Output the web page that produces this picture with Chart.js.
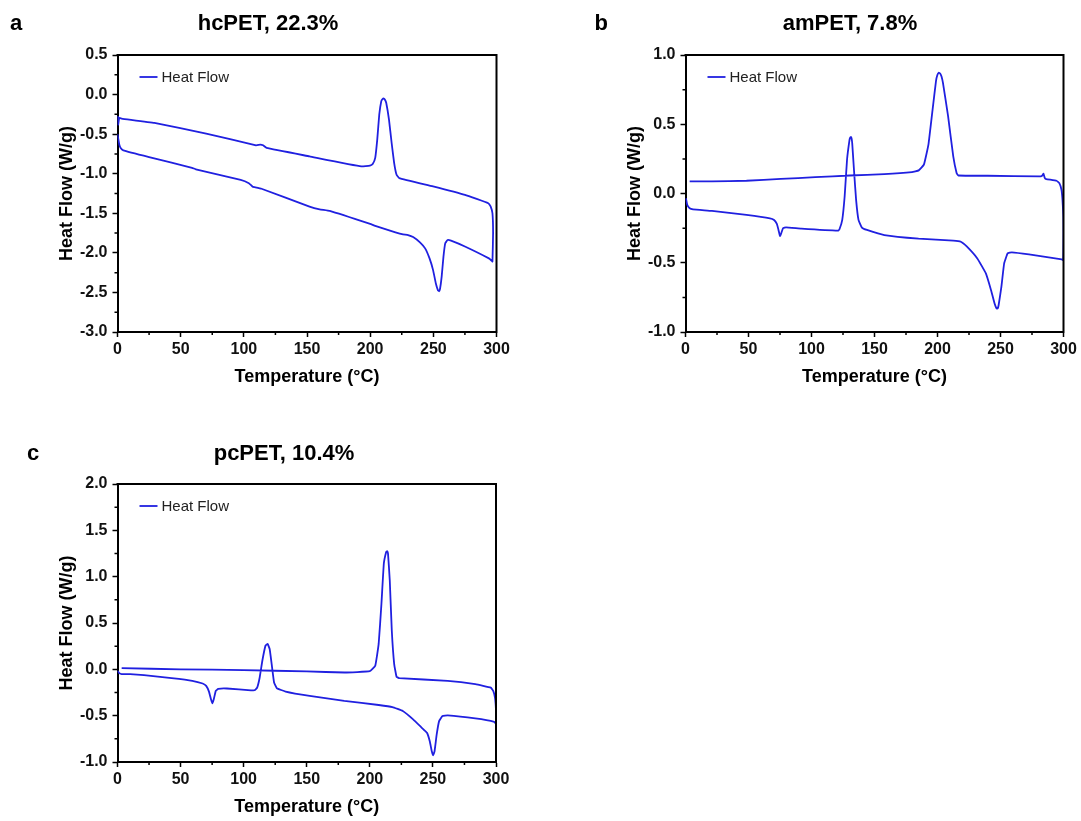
<!DOCTYPE html>
<html>
<head>
<meta charset="utf-8">
<script src="https://cdn.jsdelivr.net/npm/chart.js@4.4.1/dist/chart.umd.min.js"></script>
<style>
  body { margin: 0; background: #fff; width: 1081px; height: 821px; overflow: hidden; position: relative; }
  canvas { position: absolute; }
</style>
</head>
<body>
<canvas id="pa" width="540" height="400" style="left:0;top:0"></canvas>
<canvas id="pb" width="541" height="400" style="left:540px;top:0"></canvas>
<canvas id="pc" width="540" height="400" style="left:0;top:430px"></canvas>
<script>
// hcPET, 22.3% : heating (lower) -> jump at 300 -> cooling (upper)
const hcTemp = [0, 0.5, 1.4, 2.5, 4.6, 25, 59, 62, 97.5, 104, 107, 108.5, 114, 152, 160, 168, 200, 204, 220, 226, 230, 234, 239.4, 243.5, 247, 249.8, 252, 253.6, 254.5, 255.3, 256.6, 258, 259.4, 261.3, 264, 275, 294, 296.2, 296.8,
  297.3, 296.8, 295.4, 293.5,
  275, 249.8, 223, 220.9, 219, 217, 214.9, 212.7, 211.7, 210.8, 209.8, 208.8, 207.2, 205.6, 204, 202, 199.8, 193, 152, 118, 115.2, 113, 109.7, 70.2, 29.2, 3.3, 1.4, 0.5, 0.3];
const hcFlow = [-0.5, -0.55, -0.63, -0.675, -0.705, -0.79, -0.925, -0.945, -1.077, -1.12, -1.165, -1.17, -1.19, -1.415, -1.45, -1.47, -1.635, -1.66, -1.74, -1.766, -1.775, -1.8, -1.867, -1.943, -2.07, -2.218, -2.387, -2.47, -2.485, -2.455, -2.3, -2.05, -1.88, -1.838, -1.846, -1.92, -2.07, -2.1, -2.11,
  -1.75, -1.5, -1.415, -1.373,
  -1.267, -1.16, -1.055, -1.013, -0.865, -0.612, -0.316, -0.104, -0.065, -0.05, -0.056, -0.083, -0.252, -0.569, -0.8, -0.878, -0.899, -0.908, -0.781, -0.675, -0.641, -0.633, -0.641, -0.493, -0.358, -0.303, -0.295, -0.38, -0.27];

// amPET, 7.8%
const amTemp = [0.3, 1.4, 3.3, 6, 21, 48.4, 67, 70.3, 72.5, 73.8, 75, 76, 77.4, 79.8, 92, 121, 122.2, 124.4, 126.3, 128.2, 130.2, 130.8, 131.3, 131.8, 132.3, 133.7, 135.4, 137.3, 140, 144, 157.8, 185, 212.5, 218.5, 223.4, 231.6, 238.4, 242.5, 245.3, 246.9, 247.7, 248.5, 250.7, 252.9, 255.7, 259, 272.6, 298.6, 299.7,
  300, 299.9, 299.2, 298.4, 296.7, 294.5,
  286.3, 285.2, 284.1, 283, 280.8, 239.8, 216.6, 215.2, 212.5, 208.4, 204.3, 203.2, 202.1, 201, 199.9, 198.8, 196.1, 192.8, 189.2, 185.1, 179.7, 157.8, 130.4, 103, 75.7, 48.4, 21, 3.3];
const amFlow = [-0.034, -0.082, -0.106, -0.114, -0.126, -0.155, -0.179, -0.191, -0.22, -0.263, -0.307, -0.287, -0.251, -0.244, -0.254, -0.268, -0.258, -0.19, -0.022, 0.244, 0.389, 0.405, 0.408, 0.398, 0.365, 0.171, -0.046, -0.19, -0.246, -0.263, -0.3, -0.326, -0.34, -0.348, -0.384, -0.469, -0.577, -0.698, -0.795, -0.831, -0.83, -0.807, -0.674, -0.505, -0.432, -0.425, -0.44, -0.476, -0.481,
  -0.287, -0.167, -0.046, 0.027, 0.075, 0.092,
  0.104, 0.111, 0.143, 0.128, 0.123, 0.128, 0.13, 0.147, 0.268, 0.558, 0.8, 0.845, 0.867, 0.872, 0.855, 0.812, 0.606, 0.353, 0.208, 0.167, 0.155, 0.14, 0.13, 0.118, 0.105, 0.092, 0.087, 0.087];

// pcPET, 10.4%
const pcTemp = [0, 1.4, 3.3, 10, 21, 42.9, 59.3, 67.5, 70.3, 72.5, 74.1, 75.2, 76.3, 77.9, 79.8, 86.7, 105.8, 108.6, 110.7, 112.7, 114.8, 117.3, 119, 120.6, 122.2, 124.1, 126.3, 133.2, 152.3, 179.7, 207, 217.9, 226.1, 234.3, 241.2, 245.3, 247.5, 249.1, 250.2, 251.3, 253, 254.9, 257.6, 261.7, 283.6, 298.6, 300,
  300, 299.2, 297.8, 295.9, 283.6, 261.7, 223.4, 221.2, 219.3, 217.4, 215.8, 214.4, 213.7, 213, 211.1, 209.2, 207, 204.3, 200, 180, 150, 100, 50, 3.3];
const pcFlow = [-0.016, -0.041, -0.052, -0.052, -0.063, -0.095, -0.124, -0.153, -0.178, -0.24, -0.323, -0.367, -0.323, -0.233, -0.211, -0.207, -0.226, -0.226, -0.197, -0.088, 0.093, 0.256, 0.274, 0.219, 0.057, -0.142, -0.204, -0.24, -0.287, -0.341, -0.385, -0.407, -0.45, -0.54, -0.631, -0.685, -0.776, -0.884, -0.928, -0.884, -0.703, -0.559, -0.504, -0.497, -0.53, -0.566, -0.587,
  -0.45, -0.305, -0.233, -0.197, -0.16, -0.124, -0.095, -0.081, 0.057, 0.419, 0.961, 1.25, 1.275, 1.269, 1.142, 0.708, 0.274, 0.039, -0.02, -0.034, -0.023, -0.008, 0.0, 0.013];

const titles = ['hcPET, 22.3%', 'amPET, 7.8%', 'pcPET, 10.4%'];
const letters = ['a', 'b', 'c'];
const yRanges = [[-3, 0.5], [-1, 1], [-1, 2]];

const FONT = 'Arial, "Liberation Sans", sans-serif';
const LINE = '#2020e0';
Chart.defaults.font.family = FONT;

// frame, minor ticks, legend, panel title + letter
const deco = {
  id: 'deco',
  afterDraw(chart, args, o) {
    const ctx = chart.ctx, a = chart.chartArea;
    const xs = chart.scales.x, ys = chart.scales.y;
    ctx.save();
    ctx.strokeStyle = '#000';
    ctx.lineWidth = 2;
    ctx.beginPath();
    ctx.moveTo(a.left - 1, a.top);
    ctx.lineTo(a.right, a.top);
    ctx.lineTo(a.right, a.bottom + 1);
    ctx.stroke();
    // minor ticks
    ctx.lineWidth = 1.5;
    ctx.beginPath();
    for (let v = 25; v < 300; v += 50) {
      const px = xs.getPixelForValue(v);
      ctx.moveTo(px, a.bottom);
      ctx.lineTo(px, a.bottom + 3);
    }
    const n = Math.round((ys.max - ys.min) / 0.5);
    for (let i = 0; i < n; i++) {
      const py = ys.getPixelForValue(ys.min + i * 0.5 + 0.25);
      ctx.moveTo(a.left, py);
      ctx.lineTo(a.left - 3, py);
    }
    ctx.stroke();
    // legend
    const ly = a.top + 22;
    ctx.strokeStyle = LINE;
    ctx.lineWidth = 1.8;
    ctx.beginPath();
    ctx.moveTo(a.left + 22, ly);
    ctx.lineTo(a.left + 40, ly);
    ctx.stroke();
    ctx.fillStyle = '#222';
    ctx.font = '15px ' + FONT;
    ctx.textBaseline = 'middle';
    ctx.textAlign = 'left';
    ctx.fillText(chart.data.datasets[0].label, a.left + 44, ly + 1);
    // title and letter
    ctx.fillStyle = '#000';
    ctx.font = 'bold 22px ' + FONT;
    ctx.textBaseline = 'alphabetic';
    ctx.fillText(o.letter, o.letterX, 30);
    ctx.textAlign = 'center';
    ctx.fillText(o.title, o.titleX, 30);
    ctx.restore();
  }
};

function panel(id, temps, flows, k, yWidth, rightPad, letterX, titleX) {
  const pts = temps.map((t, i) => ({ x: t, y: flows[i] }));
  new Chart(document.getElementById(id), {
    type: 'scatter',
    data: {
      datasets: [{
        label: 'Heat Flow',
        data: pts,
        showLine: true,
        borderColor: LINE,
        backgroundColor: LINE,
        borderWidth: 1.8,
        pointRadius: 0,
        tension: 0.1
      }]
    },
    options: {
      responsive: false,
      animation: false,
      devicePixelRatio: 1,
      layout: { padding: { left: 0, top: id === 'pc' ? 54 : 55, right: rightPad, bottom: 0 } },
      plugins: {
        legend: { display: false },
        tooltip: { enabled: false },
        deco: { letter: letters[k], title: titles[k], letterX: letterX, titleX: titleX }
      },
      scales: {
        x: {
          type: 'linear', min: 0, max: 300,
          ticks: { stepSize: 50, autoSkip: false, maxRotation: 0, padding: 3, color: '#111', font: { size: 16, weight: 'bold' } },
          grid: { drawOnChartArea: false, drawTicks: true, tickLength: 5, tickWidth: 1.5, tickColor: '#000' },
          border: { display: true, color: '#000', width: 2 },
          title: { display: true, text: 'Temperature (°C)', color: '#000', font: { size: 18, weight: 'bold' }, padding: { top: 0, bottom: 12 } },
          afterFit: s => { s.height = 68; }
        },
        y: {
          type: 'linear', min: yRanges[k][0], max: yRanges[k][1],
          ticks: { stepSize: 0.5, padding: 5, color: '#111', font: { size: 16, weight: 'bold' }, callback: v => v.toFixed(1) },
          grid: { drawOnChartArea: false, drawTicks: true, tickLength: 5, tickWidth: 1.5, tickColor: '#000' },
          border: { display: true, color: '#000', width: 2 },
          title: { display: true, text: 'Heat Flow (W/g)', color: '#000', font: { size: 18, weight: 'bold' }, padding: { top: yWidth - 61.3, bottom: 0 } },
          afterFit: s => { s.width = yWidth; }
        }
      }
    },
    plugins: [deco]
  });
}

panel('pa', hcTemp, hcFlow, 0, 117.5, 43.5, 10, 268);
panel('pb', amTemp, amFlow, 1, 145.5, 17.5, 54.5, 310);
panel('pc', pcTemp, pcFlow, 2, 117.5, 44, 27, 284);
</script>
</body>
</html>
